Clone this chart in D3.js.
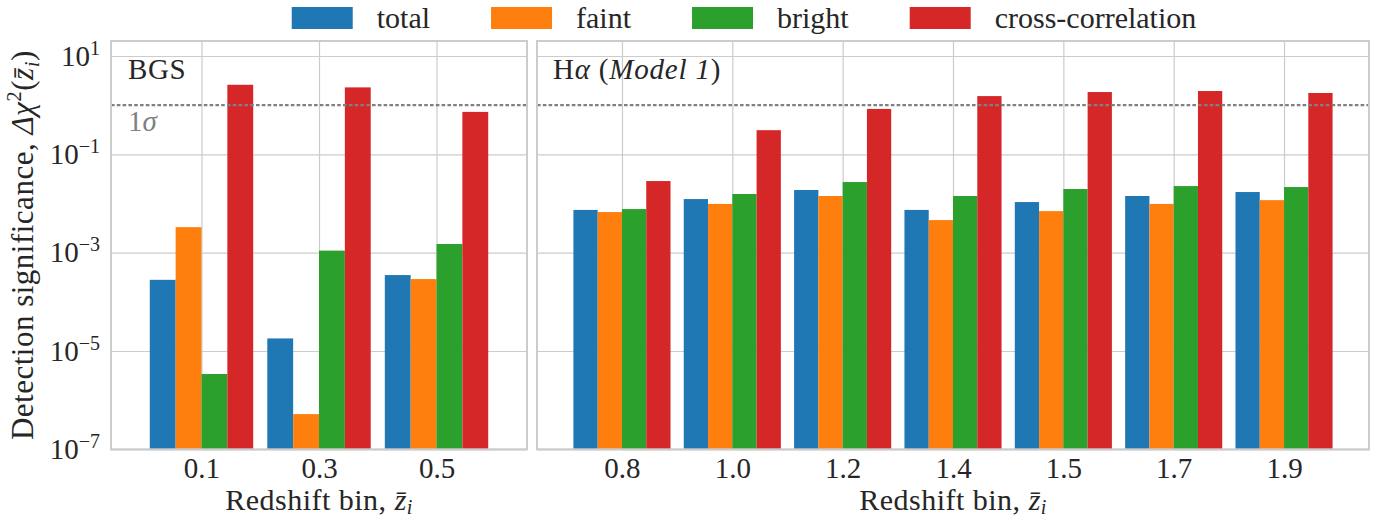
<!DOCTYPE html>
<html>
<head>
<meta charset="utf-8">
<script src="https://cdn.jsdelivr.net/npm/d3@7"></script>
<style>
  body { margin: 0; background: #fff; }
  svg, svg text, svg tspan { font-family: "Liberation Serif", "Times New Roman", serif; }
  svg text { fill: #262626; }
  .grid line { stroke: #cccccc; stroke-width: 1.2; }
  .grid path { display: none; }
</style>
</head>
<body>
<div id="chart"></div>
<script>
// series names and colours
var seriesNames = ["total", "faint", "bright", "cross-correlation"];
var colors = ["#1f77b4", "#ff7f0e", "#2ca02c", "#d62728"];

// BGS panel
var bgsBins = ["0.1", "0.3", "0.5"];
var bgsTotal = [2.8e-4, 1.8e-5, 3.5e-4];
var bgsFaint = [3.3e-3, 5.2e-7, 2.9e-4];
var bgsBright = [3.4e-6, 1.1e-3, 1.5e-3];
var bgsCross = [2.6, 2.3, 0.73];

// H-alpha (Model 1) panel
var haBins = ["0.8", "1.0", "1.2", "1.4", "1.5", "1.7", "1.9"];
var haTotal = [7.4e-3, 0.0123, 0.0188, 7.4e-3, 0.0107, 0.0142, 0.0171];
var haFaint = [6.7e-3, 9.8e-3, 0.0142, 4.6e-3, 7.0e-3, 9.8e-3, 0.0117];
var haBright = [7.7e-3, 0.0156, 0.0273, 0.0142, 0.0197, 0.0226, 0.0216];
var haCross = [0.0286, 0.31, 0.84, 1.53, 1.85, 1.94, 1.77];

// y ticks (exponents)
var yTickExp = [1, -1, -3, -5, -7];

var svgWidth = 1386;
var svgHeight = 520;
var plotTop = 41;
var plotBottom = 449.3;
var fontSize = 29;

var svg = d3.select("#chart")
  .append("svg")
  .attr("width", svgWidth)
  .attr("height", svgHeight);

var y = d3.scaleLog()
  .domain([1e-7, 20.2])
  .range([plotBottom, plotTop]);

var yTicks = yTickExp.map(e => Math.pow(10, e));

function drawPanel(left, right, bins, series, showYLabels) {
  var x = d3.scaleLinear()
    .domain([-0.77, bins.length - 1 + 0.77])
    .range([left, right]);

  var g = svg.append("g");

  // vertical grid
  g.append("g")
    .attr("class", "grid")
    .attr("transform", `translate(0, ${plotTop})`)
    .call(d3.axisTop(x).tickValues(d3.range(bins.length)).tickSize(-(plotBottom - plotTop)).tickFormat(""));

  // horizontal grid
  g.append("g")
    .attr("class", "grid")
    .attr("transform", `translate(${left}, 0)`)
    .call(d3.axisLeft(y).tickValues(yTicks).tickSize(-(right - left)).tickFormat(""));

  // bars
  var bw = 0.22;
  series.forEach((vals, k) => {
    g.selectAll(null)
      .data(vals)
      .enter()
      .append("rect")
      .attr("x", (d, i) => x(i - 2 * bw + k * bw))
      .attr("width", x(bw) - x(0))
      .attr("y", d => y(d))
      .attr("height", d => plotBottom - y(d))
      .attr("fill", colors[k]);
  });

  // 1 sigma line
  g.append("line")
    .attr("x1", left)
    .attr("x2", right)
    .attr("y1", y(1))
    .attr("y2", y(1))
    .attr("stroke", "#808080")
    .attr("stroke-width", 2.2)
    .attr("stroke-dasharray", "3.6,2.2");

  // frame
  g.append("rect")
    .attr("x", left)
    .attr("y", plotTop)
    .attr("width", right - left)
    .attr("height", plotBottom - plotTop)
    .attr("fill", "none")
    .attr("stroke", "#cccccc")
    .attr("stroke-width", 2);

  // x tick labels
  var xAxis = g.append("g")
    .attr("transform", `translate(0, ${plotBottom})`)
    .call(d3.axisBottom(x).tickValues(d3.range(bins.length)).tickSize(0).tickPadding(8).tickFormat(i => bins[i]));
  xAxis.attr("font-size", fontSize).attr("font-family", null);
  xAxis.select(".domain").remove();

  // x axis title
  var xt = g.append("text")
    .attr("x", (left + right) / 2)
    .attr("y", 510)
    .attr("text-anchor", "middle")
    .attr("font-size", 30)
    .attr("letter-spacing", 0.5);
  xt.append("tspan").text("Redshift bin, ");
  xt.append("tspan").attr("font-style", "italic").text("z\u0304");
  xt.append("tspan").attr("font-style", "italic").attr("font-size", 20).attr("dy", 4).text("i");

  if (showYLabels) {
    var yAxis = g.append("g")
      .attr("transform", `translate(${left}, 0)`)
      .call(d3.axisLeft(y).tickValues(yTicks).tickSize(0).tickPadding(11).tickFormat(""));
    yAxis.attr("font-size", fontSize).attr("font-family", null);
    yAxis.select(".domain").remove();
    yAxis.selectAll("text").each(function(d) {
      var t = d3.select(this);
      var e = Math.round(Math.log10(d));
      t.append("tspan").text("10");
      t.append("tspan")
        .attr("font-size", 20)
        .attr("dy", -11)
        .text(e < 0 ? "\u2212" + (-e) : "" + e);
    });
  }
  return x;
}

drawPanel(111, 527, bgsBins, [bgsTotal, bgsFaint, bgsBright, bgsCross], true);
drawPanel(537, 1369, haBins, [haTotal, haFaint, haBright, haCross], false);

// panel labels
svg.append("text")
  .attr("x", 128)
  .attr("y", 79)
  .attr("font-size", fontSize)
  .attr("letter-spacing", 0.6)
  .text("BGS");

var sig = svg.append("text")
  .attr("x", 128)
  .attr("y", 131)
  .attr("font-size", fontSize)
  .style("fill", "#808080");
sig.append("tspan").text("1");
sig.append("tspan").attr("font-style", "italic").text("\u03c3");

var ha = svg.append("text")
  .attr("x", 553)
  .attr("y", 79)
  .attr("font-size", fontSize)
  .attr("letter-spacing", 0.8);
ha.append("tspan").text("H");
ha.append("tspan").attr("font-style", "italic").text("\u03b1");
ha.append("tspan").text(" (");
ha.append("tspan").attr("font-style", "italic").text("Model 1");
ha.append("tspan").text(")");

// y axis title
var yt = svg.append("text")
  .attr("transform", `translate(33, ${(plotTop + plotBottom) / 2}) rotate(-90)`)
  .attr("text-anchor", "middle")
  .attr("font-size", 31)
  .attr("letter-spacing", 0.5);
yt.append("tspan").text("Detection significance, ");
yt.append("tspan").attr("font-style", "italic").text("\u0394\u03c7");
yt.append("tspan").attr("font-size", 21).attr("dy", -12).text("2");
yt.append("tspan").attr("dy", 12).text("(");
yt.append("tspan").attr("font-style", "italic").text("z\u0304");
yt.append("tspan").attr("font-style", "italic").attr("font-size", 21).attr("dy", 6).text("i");
yt.append("tspan").attr("dy", -6).text(")");

// legend
var legend = svg.append("g");
var items = [];
seriesNames.forEach((name, k) => {
  var it = legend.append("g");
  it.append("rect")
    .attr("width", 61)
    .attr("height", 22)
    .attr("y", 7)
    .attr("fill", colors[k]);
  var txt = it.append("text")
    .attr("x", 85)
    .attr("y", 28)
    .attr("font-size", fontSize + 1)
    .text(name);
  items.push({ g: it, w: 85 + txt.node().getComputedTextLength() });
});
var totalW = d3.sum(items, d => d.w) + 61 * (items.length - 1);
var lx = 744 - totalW / 2;
items.forEach(d => {
  d.g.attr("transform", `translate(${lx}, 0)`);
  lx += d.w + 61;
});
</script>
</body>
</html>
